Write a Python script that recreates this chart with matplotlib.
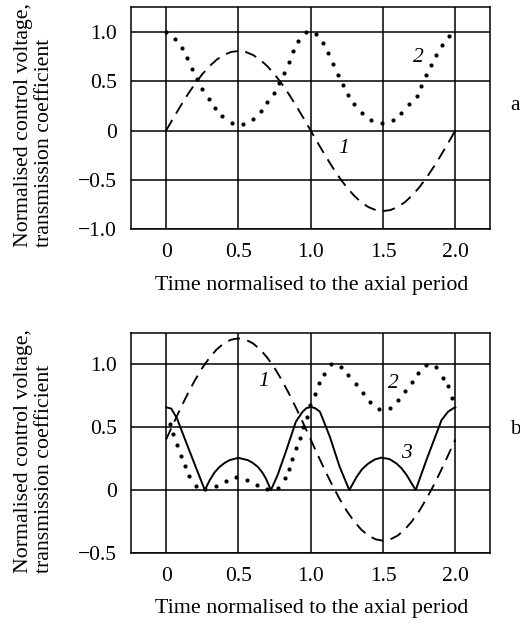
import matplotlib
matplotlib.use('Agg')
import matplotlib.pyplot as plt

plt.rcParams['font.family'] = ['Liberation Serif', 'DejaVu Serif']
plt.rcParams['font.size'] = 15.5

# time axis for the dashed control voltage curves
t_v = [0.00, 0.05, 0.10, 0.15, 0.20, 0.25, 0.30, 0.35, 0.40, 0.45, 0.50,
       0.55, 0.60, 0.65, 0.70, 0.75, 0.80, 0.85, 0.90, 0.95, 1.00,
       1.05, 1.10, 1.15, 1.20, 1.25, 1.30, 1.35, 1.40, 1.45, 1.50,
       1.55, 1.60, 1.65, 1.70, 1.75, 1.80, 1.85, 1.90, 1.95, 2.00]

# panel a
volt_a = [0.000, 0.127, 0.250, 0.368, 0.476, 0.573, 0.655, 0.722, 0.770, 0.800, 0.810,
          0.800, 0.770, 0.722, 0.655, 0.573, 0.476, 0.368, 0.250, 0.127, 0.000,
          -0.128, -0.253, -0.372, -0.482, -0.580, -0.663, -0.731, -0.780, -0.810, -0.820,
          -0.810, -0.780, -0.731, -0.663, -0.580, -0.482, -0.372, -0.253, -0.128, 0.000]
t_tr_a = [0, 0.062, 0.108, 0.146, 0.181, 0.215, 0.249, 0.295, 0.336, 0.389,
          0.453, 0.531, 0.600, 0.657, 0.698, 0.748, 0.783, 0.817, 0.847, 0.879,
          0.915, 0.970, 1.039, 1.086, 1.123, 1.155, 1.188, 1.225, 1.255, 1.300,
          1.354, 1.414, 1.490, 1.567, 1.625, 1.683, 1.734, 1.766, 1.800, 1.833,
          1.870, 1.905, 1.954]
tr_a = [1.0, 0.932, 0.836, 0.734, 0.631, 0.529, 0.427, 0.324, 0.229, 0.147,
        0.078, 0.065, 0.113, 0.195, 0.29, 0.386, 0.488, 0.59, 0.70, 0.809,
        0.911, 1.0, 0.98, 0.887, 0.785, 0.676, 0.57, 0.468, 0.358, 0.266,
        0.181, 0.106, 0.078, 0.109, 0.181, 0.266, 0.352, 0.457, 0.563, 0.666,
        0.768, 0.87, 0.966]

# panel b
volt_b = [0.400, 0.525, 0.647, 0.763, 0.870, 0.966, 1.047, 1.113, 1.161, 1.190, 1.200,
          1.190, 1.161, 1.113, 1.047, 0.966, 0.870, 0.763, 0.647, 0.525, 0.400,
          0.275, 0.153, 0.037, -0.070, -0.166, -0.247, -0.313, -0.361, -0.390, -0.400,
          -0.390, -0.361, -0.313, -0.247, -0.166, -0.070, 0.037, 0.153, 0.275, 0.400]
t_tr_b = [0.027, 0.05, 0.073, 0.103, 0.13, 0.16, 0.204, 0.27, 0.348, 0.416,
          0.485, 0.558, 0.629, 0.70, 0.771, 0.824, 0.851, 0.874, 0.90, 0.927,
          0.95, 0.973, 0.997, 1.03, 1.06, 1.09, 1.138, 1.207, 1.26, 1.31,
          1.359, 1.41, 1.472, 1.548, 1.606, 1.652, 1.698, 1.744, 1.80, 1.87,
          1.916, 1.947, 1.977]
tr_b = [0.526, 0.44, 0.355, 0.268, 0.19, 0.11, 0.034, 0.005, 0.034, 0.074,
        0.10, 0.079, 0.039, 0.005, 0.013, 0.092, 0.166, 0.245, 0.329, 0.413,
        0.497, 0.579, 0.673, 0.76, 0.845, 0.92, 1.0, 0.977, 0.91, 0.837,
        0.77, 0.70, 0.64, 0.65, 0.712, 0.784, 0.857, 0.93, 0.99, 0.97,
        0.89, 0.82, 0.73]
t_c3 = [0, 0.035, 0.074, 0.142, 0.2, 0.268, 0.302, 0.335, 0.37, 0.405, 0.439, 0.5,
        0.565, 0.6, 0.634, 0.665, 0.69, 0.725, 0.771, 0.828, 0.897, 0.943, 0.97, 1.0,
        1.03, 1.064, 1.133, 1.2, 1.267, 1.318, 1.355, 1.398, 1.445, 1.49, 1.545,
        1.594, 1.63, 1.663, 1.726, 1.8, 1.905, 1.95, 1.986, 2.0]
c3_b = [0.655, 0.645, 0.57, 0.368, 0.197, 0.0, 0.079, 0.14, 0.184, 0.215, 0.237, 0.255,
        0.237, 0.215, 0.184, 0.14, 0.092, 0.0, 0.118, 0.303, 0.54, 0.618, 0.648, 0.658,
        0.648, 0.62, 0.42, 0.185, 0.0, 0.105, 0.165, 0.21, 0.243, 0.257, 0.245,
        0.21, 0.17, 0.12, 0.0, 0.237, 0.554, 0.62, 0.647, 0.655]

x_ticks = [0, 0.5, 1.0, 1.5, 2.0]
x_labels = ['0', '0.5', '1.0', '1.5', '2.0']
y_ticks_a = [-1.0, -0.5, 0, 0.5, 1.0]
y_labels_a = ['\u22121.0', '\u22120.5', '0', '0.5', '1.0']
y_ticks_b = [-0.5, 0, 0.5, 1.0]
y_labels_b = ['\u22120.5', '0', '0.5', '1.0']

xlabel = 'Time normalised to the axial period'
ylabel = 'Normalised control voltage,\ntransmission coefficient'


def setup(ax, yticks, ylabels, ylim):
	ax.set_xlim(-0.245, 2.24)
	ax.set_ylim(*ylim)
	ax.set_xticks(x_ticks)
	ax.set_xticklabels(x_labels)
	ax.set_yticks(yticks)
	ax.set_yticklabels(ylabels)
	ax.tick_params(length=0, pad=10)
	ax.grid(True, color='black', linewidth=1.1)
	for s in ax.spines.values():
		s.set_linewidth(1.1)
	ax.set_axisbelow(True)


fig = plt.figure(figsize=(5.2, 6.25), dpi=100)
ax1 = fig.add_axes([0.2513, 0.634, 0.691, 0.3547])
ax2 = fig.add_axes([0.2513, 0.1147, 0.691, 0.353])

setup(ax1, y_ticks_a, y_labels_a, (-1.0, 1.257))
ax1.plot(t_v, volt_a, color='black', lw=1.35, linestyle=(0, (6.5, 4.0)))
ax1.plot(t_tr_a, tr_a, 'o', color='black', ms=3.0, mew=0)
ax1.text(1.225, -0.18, '1', style='italic', ha='center', va='center')
ax1.text(1.744, 0.745, '2', style='italic', ha='center', va='center')

setup(ax2, y_ticks_b, y_labels_b, (-0.5, 1.245))
ax2.plot(t_v, volt_b, color='black', lw=1.35, linestyle=(0, (6.5, 4.0)))
ax2.plot(t_tr_b, tr_b, 'o', color='black', ms=3.0, mew=0)
ax2.plot(t_c3, c3_b, color='black', lw=1.4)
ax2.text(0.673, 0.857, '1', style='italic', ha='center', va='center')
ax2.text(1.57, 0.845, '2', style='italic', ha='center', va='center')
ax2.text(1.663, 0.29, '3', style='italic', ha='center', va='center')

# axis titles and panel letters
fig.text(312 / 520, 1 - 290 / 625, xlabel, ha='center', va='baseline', fontsize=15.8)
fig.text(312 / 520, 1 - 613 / 625, xlabel, ha='center', va='baseline', fontsize=15.8)
fig.text(34 / 520, 1 - 247 / 625, ylabel, rotation=90, ha='center', va='bottom',
	multialignment='left', linespacing=1.2, fontsize=15.7)
fig.text(34 / 520, 1 - 573 / 625, ylabel, rotation=90, ha='center', va='bottom',
	multialignment='left', linespacing=1.2, fontsize=15.7)
fig.text(515 / 520, 1 - 105 / 625, 'a', ha='center', va='center')
fig.text(515 / 520, 1 - 430 / 625, 'b', ha='center', va='center')

fig.savefig('out.png', dpi=100)
